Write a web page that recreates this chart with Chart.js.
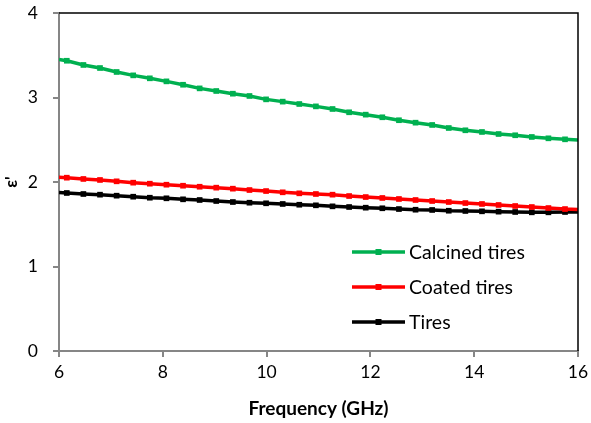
<!DOCTYPE html>
<html>
<head>
<meta charset="utf-8">
<script src="https://cdn.jsdelivr.net/npm/chart.js@4/dist/chart.umd.min.js"></script>
<style>
  html, body { margin: 0; padding: 0; background: #fff; }
  #wrap { width: 591px; height: 423px; }
</style>
</head>
<body>
<div id="wrap"><canvas id="chart"></canvas></div>
<script>
// frequency in GHz; first and last entries are the line ends (no marker)
const frequency = [6.00, 6.15, 6.47, 6.79, 7.11, 7.43, 7.75, 8.07, 8.39, 8.71, 9.03, 9.35, 9.67, 9.99, 10.31, 10.63, 10.95,
  11.27, 11.59, 11.91, 12.23, 12.55, 12.87, 13.19, 13.51, 13.83, 14.15, 14.47, 14.79, 15.11, 15.43, 15.75, 16.00]

const calcined = [3.45, 3.435, 3.385, 3.349, 3.302, 3.262, 3.227, 3.191, 3.151, 3.108, 3.077, 3.045, 3.018, 2.978, 2.951, 2.923, 2.895,
  2.864, 2.825, 2.797, 2.766, 2.731, 2.702, 2.675, 2.639, 2.612, 2.592, 2.568, 2.553, 2.533, 2.517, 2.505, 2.497]

const coated = [2.055, 2.051, 2.036, 2.024, 2.008, 1.992, 1.980, 1.968, 1.956, 1.944, 1.933, 1.921, 1.905, 1.893, 1.878, 1.866, 1.858,
  1.850, 1.834, 1.822, 1.811, 1.799, 1.787, 1.775, 1.763, 1.751, 1.740, 1.728, 1.716, 1.704, 1.692, 1.680, 1.675]

const tires = [1.875, 1.870, 1.858, 1.850, 1.838, 1.826, 1.814, 1.807, 1.795, 1.787, 1.775, 1.763, 1.755, 1.748, 1.740, 1.731, 1.724,
  1.712, 1.704, 1.696, 1.689, 1.680, 1.672, 1.669, 1.660, 1.657, 1.653, 1.649, 1.645, 1.641, 1.641, 1.645, 1.645]

const seriesNames = ["Calcined tires", "Coated tires", "Tires"]
const seriesColors = ["#00B050", "#FF0000", "#000000"]

const FONT = "Lato, 'Open Sans', sans-serif"

const toPoints = function(ys) {
  return frequency.map((x, i) => ({ x: x, y: ys[i] }))
}

const makeDataset = function(label, ys, color) {
  return {
    label: label,
    data: toPoints(ys),
    borderColor: color,
    backgroundColor: color,
    borderWidth: 3.5,
    pointStyle: "rect",
    pointRadius: (ctx) => (ctx.dataIndex === 0 || ctx.dataIndex === frequency.length - 1) ? 0 : 4,
    pointBorderWidth: 0,
    tension: 0
  }
}

// top + right frame and in-plot legend
const framePlugin = {
  id: "frame",
  afterDatasetsDraw(chart) {
    const { ctx, chartArea } = chart
    ctx.save()
    ctx.strokeStyle = "#000"
    ctx.lineWidth = 1.5
    ctx.beginPath()
    ctx.moveTo(chartArea.left, chartArea.top)
    ctx.lineTo(chartArea.right, chartArea.top)
    ctx.lineTo(chartArea.right, chartArea.bottom)
    ctx.stroke()

    const x0 = 352, x1 = 405, rowY = [252, 287, 322]
    ctx.font = "19.5px " + FONT
    ctx.textBaseline = "middle"
    chart.data.datasets.forEach((ds, i) => {
      ctx.strokeStyle = ds.borderColor
      ctx.lineWidth = 3.5
      ctx.beginPath()
      ctx.moveTo(x0, rowY[i])
      ctx.lineTo(x1, rowY[i])
      ctx.stroke()
      ctx.fillStyle = ds.borderColor
      ctx.fillRect((x0 + x1) / 2 - 3, rowY[i] - 3, 6, 6)
      ctx.fillStyle = "#000"
      ctx.fillText(ds.label, x1 + 4, rowY[i] + 1)
    })
    ctx.restore()
  }
}

new Chart(document.getElementById("chart"), {
  type: "line",
  data: {
    datasets: [
      makeDataset(seriesNames[0], calcined, seriesColors[0]),
      makeDataset(seriesNames[1], coated, seriesColors[1]),
      makeDataset(seriesNames[2], tires, seriesColors[2])
    ]
  },
  options: {
    responsive: true,
    maintainAspectRatio: false,
    animation: false,
    layout: { padding: { top: 13, right: 13, left: 0, bottom: 0 } },
    plugins: {
      legend: { display: false },
      tooltip: { enabled: false }
    },
    scales: {
      x: {
        type: "linear",
        min: 6,
        max: 16,
        afterFit: (scale) => {
          scale.height = 72
          scale.paddingLeft = 0
          scale.paddingRight = 0
        },
        ticks: { stepSize: 2, color: "#000", padding: 5, font: { family: FONT, size: 17.5 } },
        grid: { drawOnChartArea: false, drawTicks: true, tickLength: 6, color: "#868686", lineWidth: 2 },
        border: { color: "#868686", width: 2 },
        title: { display: true, text: "Frequency (GHz)", color: "#000", font: { family: FONT, size: 19, weight: "bold" }, padding: { top: 2, bottom: 3 } }
      },
      y: {
        min: 0,
        max: 4,
        afterFit: (scale) => {
          scale.width = 59
          scale.paddingTop = 0
          scale.paddingBottom = 0
        },
        ticks: { stepSize: 1, color: "#000", padding: 15, font: { family: FONT, size: 17.5 } },
        grid: { drawOnChartArea: false, drawTicks: true, tickLength: 6, color: "#868686", lineWidth: 2 },
        border: { color: "#868686", width: 2 },
        title: { display: true, text: "ε'", color: "#000", font: { family: FONT, size: 17, weight: "bold" }, padding: { top: 1, bottom: 1 } }
      }
    }
  },
  plugins: [framePlugin]
})
</script>
</body>
</html>
